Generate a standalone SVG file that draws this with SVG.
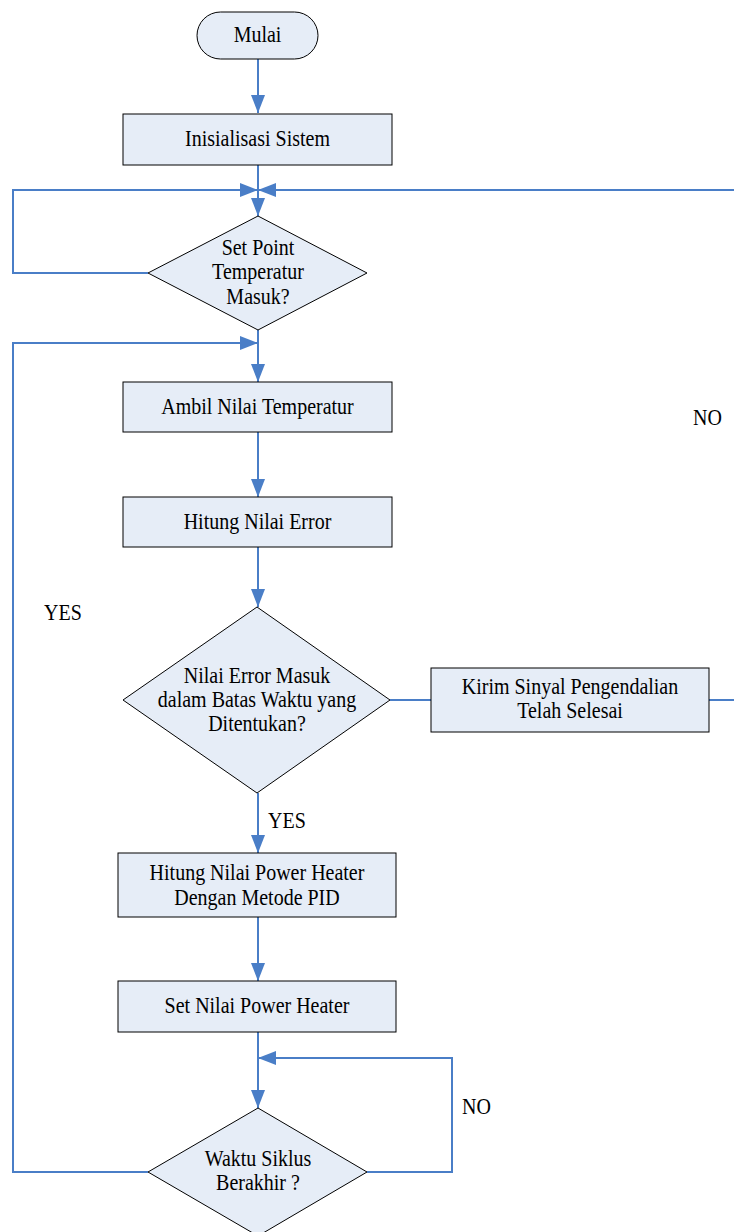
<svg xmlns="http://www.w3.org/2000/svg" width="734" height="1232" viewBox="0 0 734 1232">
  <style>
    .shape { fill: #E6EDF7; stroke: #000000; stroke-width: 1; }
    .wire { fill: none; stroke: #4A7EC7; stroke-width: 2; }
    .arrow { marker-end: url(#head); }
    text { font-family: "Liberation Serif", "Times New Roman", serif; font-size: 20px; fill: #000000; text-anchor: middle; }
    .lbl { text-anchor: start; }
  </style>
  <defs>
    <marker id="head" markerUnits="userSpaceOnUse" markerWidth="18" markerHeight="14" refX="18" refY="7" orient="auto">
      <path d="M0,0 L18,7 L0,14 z" fill="#4A7EC7"/>
    </marker>
  </defs>

  <!-- connectors -->
  <g id="connectors">
    <path class="wire arrow" d="M258,59 V113"/>
    <path class="wire arrow" d="M258,165 V216"/>
    <path class="wire arrow" d="M148,273 H13 V190 H258"/>
    <path class="wire arrow" d="M734,190 H258"/>
    <path class="wire arrow" d="M258,330 V382"/>
    <path class="wire arrow" d="M148,1172 H13 V343 H258"/>
    <path class="wire arrow" d="M258,432 V497"/>
    <path class="wire arrow" d="M258,547 V607"/>
    <path class="wire arrow" d="M258,793 V853"/>
    <path class="wire" d="M390,700 H431"/>
    <path class="wire" d="M709,700 H734"/>
    <path class="wire arrow" d="M258,917 V981"/>
    <path class="wire arrow" d="M258,1032 V1108"/>
    <path class="wire arrow" d="M367,1172 H452 V1058 H258"/>
  </g>

  <!-- nodes (labels slightly stretched vertically) -->
  <g id="mulai">
    <rect class="shape" x="197" y="12" width="121" height="47" rx="23.5" ry="23.5"/>
    <text transform="translate(257.5,42) scale(1,1.12)">Mulai</text>
  </g>
  <g id="inisialisasi">
    <rect class="shape" x="123" y="114" width="269" height="51"/>
    <text transform="translate(257.5,146) scale(1,1.12)">Inisialisasi Sistem</text>
  </g>
  <g id="cek-setpoint">
    <polygon class="shape" points="258,216 367,273 258,330 148,273"/>
    <text transform="translate(258,255) scale(1,1.12)">Set Point</text>
    <text transform="translate(258,279) scale(1,1.12)">Temperatur</text>
    <text transform="translate(258,304) scale(1,1.12)">Masuk?</text>
  </g>
  <g id="ambil-temperatur">
    <rect class="shape" x="123" y="382" width="269" height="50"/>
    <text transform="translate(257.5,414) scale(1,1.12)">Ambil Nilai Temperatur</text>
  </g>
  <g id="hitung-error">
    <rect class="shape" x="123" y="497" width="269" height="50"/>
    <text transform="translate(257.5,529) scale(1,1.12)">Hitung Nilai Error</text>
  </g>
  <g id="cek-error">
    <polygon class="shape" points="257,607 390,700 257,793 123,700"/>
    <text transform="translate(257,683) scale(1,1.12)">Nilai Error Masuk</text>
    <text transform="translate(257,707) scale(1,1.12)">dalam Batas Waktu yang</text>
    <text transform="translate(257,731) scale(1,1.12)">Ditentukan?</text>
  </g>
  <g id="kirim-sinyal">
    <rect class="shape" x="431" y="668" width="278" height="64"/>
    <text transform="translate(570,694) scale(1,1.12)">Kirim Sinyal Pengendalian</text>
    <text transform="translate(570,718) scale(1,1.12)">Telah Selesai</text>
  </g>
  <g id="hitung-pid">
    <rect class="shape" x="118" y="853" width="278" height="64"/>
    <text transform="translate(257,880) scale(1,1.12)">Hitung Nilai Power Heater</text>
    <text transform="translate(257,905) scale(1,1.12)">Dengan Metode PID</text>
  </g>
  <g id="set-power">
    <rect class="shape" x="118" y="981" width="278" height="51"/>
    <text transform="translate(257,1013) scale(1,1.12)">Set Nilai Power Heater</text>
  </g>
  <g id="cek-siklus">
    <polygon class="shape" points="258,1108 367,1172 258,1236 148,1172"/>
    <text transform="translate(258,1166) scale(1,1.12)">Waktu Siklus</text>
    <text transform="translate(258,1190) scale(1,1.12)">Berakhir ?</text>
  </g>

  <!-- branch labels -->
  <g id="labels">
    <text class="lbl" transform="translate(693,425) scale(1,1.12)">NO</text>
    <text class="lbl" transform="translate(44,620) scale(1,1.12)">YES</text>
    <text class="lbl" transform="translate(268,828) scale(1,1.12)">YES</text>
    <text class="lbl" transform="translate(462,1114) scale(1,1.12)">NO</text>
  </g>
</svg>
